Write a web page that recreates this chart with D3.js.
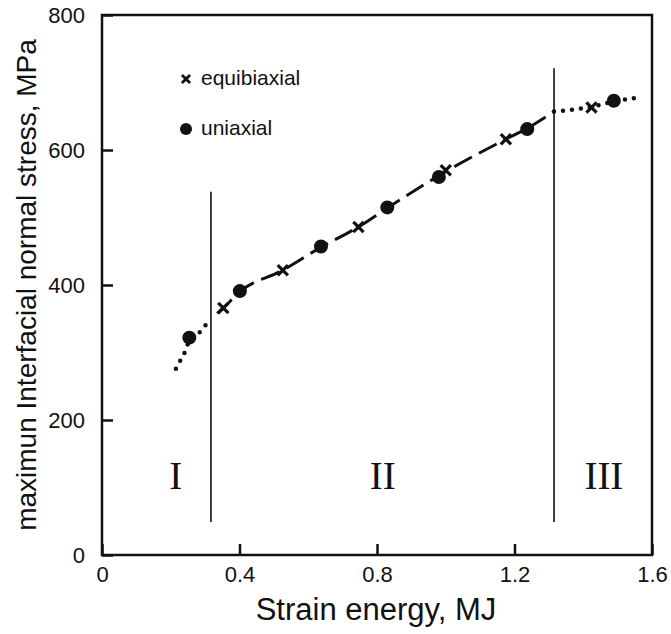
<!DOCTYPE html>
<html>
<head>
<meta charset="utf-8">
<script src="https://cdn.jsdelivr.net/npm/d3@7"></script>
<style>
  body { margin: 0; background: #fff; }
  text { font-family: "Liberation Sans", Arial, sans-serif; fill: #111; }
  .roman { font-family: "Liberation Serif", "DejaVu Serif", serif; }
</style>
</head>
<body>
<div id="chart"></div>
<script>
// data
const xTicks = [0, 0.4, 0.8, 1.2, 1.6];
const yTicks = [0, 200, 400, 600, 800];

// fitted curve, split by region
const curveI = [[0.215, 276], [0.229, 289], [0.2415, 301], [0.254, 318], [0.29, 333], [0.306, 344]];
const curveII = [[0.335, 358], [0.353, 366], [0.401, 390], [0.526, 422], [0.637, 456], [0.746, 486],
  [0.83, 514], [0.98, 562], [1.0, 568], [1.175, 616], [1.237, 632], [1.315, 657]];
const curveIII = [[1.315, 657], [1.424, 664], [1.489, 672], [1.55, 677]];

const equibiaxial = [[0.353, 366], [0.526, 422], [0.746, 486], [1.0, 570], [1.175, 616], [1.424, 663]];
const uniaxial = [[0.254, 322], [0.401, 391], [0.637, 457], [0.83, 515], [0.98, 560], [1.237, 631], [1.489, 673]];

// region dividers: x, top value, bottom value
const dividers = [[0.317, 538, 49], [1.315, 721, 49]];
const regions = [["I", 0.2145], ["II", 0.817], ["III", 1.46]];

const width = 671, height = 634,
    margin = ({ top: 15, right: 19, bottom: 79, left: 102 });

const svg = d3.select("#chart")
    .append("svg")
    .attr("width", width)
    .attr("height", height);

let x = d3.scaleLinear()
    .domain([0, 1.6])
    .range([margin.left, width - margin.right]);

let y = d3.scaleLinear()
    .domain([0, 800])
    .range([height - margin.bottom, margin.top]);

// frame
svg.append("rect")
    .attr("x", x(0))
    .attr("y", y(800))
    .attr("width", x(1.6) - x(0))
    .attr("height", y(0) - y(800))
    .attr("fill", "none")
    .attr("stroke", "#111")
    .attr("stroke-width", 2.5);

// x-axis, ticks pointing inward
let xAxis = svg.append("g")
    .attr("transform", `translate(0,${y(0)})`)
    .call(d3.axisBottom(x)
        .tickValues(xTicks)
        .tickSizeInner(-11)
        .tickSizeOuter(0)
        .tickPadding(11)
        .tickFormat(d => d === 0 ? "0" : d3.format(".1f")(d)));
xAxis.select(".domain").remove();
xAxis.selectAll("line").attr("stroke", "#111").attr("stroke-width", 2.5);
xAxis.selectAll("text").style("font-size", "22px").attr("font-family", null);

// y-axis
let yAxis = svg.append("g")
    .attr("transform", `translate(${x(0)},0)`)
    .call(d3.axisLeft(y)
        .tickValues(yTicks)
        .tickSizeInner(-11)
        .tickSizeOuter(0)
        .tickPadding(17));
yAxis.select(".domain").remove();
yAxis.selectAll("line").attr("stroke", "#111").attr("stroke-width", 2.5);
yAxis.selectAll("text").style("font-size", "22px").attr("font-family", null);

// axis labels
svg.append("text")
    .attr("text-anchor", "middle")
    .attr("x", 376)
    .attr("y", 620)
    .style("font-size", "31px")
    .text("Strain energy, MJ");

svg.append("text")
    .attr("text-anchor", "middle")
    .attr("transform", `translate(36,${(30 + 540) / 2}) rotate(-90)`)
    .style("font-size", "28px")
    .text("maximun Interfacial normal stress, MPa");

// region dividers
svg.append("g")
    .selectAll("line")
    .data(dividers)
    .join("line")
    .attr("x1", d => x(d[0]))
    .attr("x2", d => x(d[0]))
    .attr("y1", d => y(d[1]))
    .attr("y2", d => y(d[2]))
    .attr("stroke", "#111")
    .attr("stroke-width", 1.6);

svg.append("g")
    .selectAll("text")
    .data(regions)
    .join("text")
    .attr("class", "roman")
    .attr("text-anchor", "middle")
    .attr("x", d => x(d[1]))
    .attr("y", y(98))
    .style("font-size", "39px")
    .text(d => d[0]);

// curve
let line = d3.line()
    .curve(d3.curveMonotoneX)
    .x(d => x(d[0]))
    .y(d => y(d[1]));

[curveI, curveIII].forEach(seg => {
    svg.append("path")
        .datum(seg)
        .attr("fill", "none")
        .attr("stroke", "#111")
        .attr("stroke-width", 4.5)
        .attr("stroke-linecap", "round")
        .attr("stroke-dasharray", "0,9")
        .attr("d", line);
});

svg.append("path")
    .datum(curveII)
    .attr("fill", "none")
    .attr("stroke", "#111")
    .attr("stroke-width", 3)
    .attr("stroke-dasharray", "20,8")
    .attr("d", line);

// markers
let cross = d3.symbol().type(d3.symbolX).size(70);

svg.append("g")
    .selectAll("path")
    .data(equibiaxial)
    .join("path")
    .attr("d", cross)
    .attr("transform", d => `translate(${x(d[0])},${y(d[1])})`)
    .attr("fill", "none")
    .attr("stroke", "#111")
    .attr("stroke-width", 3.2);

svg.append("g")
    .selectAll("circle")
    .data(uniaxial)
    .join("circle")
    .attr("cx", d => x(d[0]))
    .attr("cy", d => y(d[1]))
    .attr("r", 7)
    .attr("fill", "#111");

// legend
let legend = svg.append("g");
legend.append("path")
    .attr("d", d3.symbol().type(d3.symbolX).size(45))
    .attr("transform", "translate(186,79)")
    .attr("fill", "none")
    .attr("stroke", "#111")
    .attr("stroke-width", 2.8);
legend.append("text")
    .attr("x", 201)
    .attr("y", 79)
    .attr("dominant-baseline", "middle")
    .style("font-size", "21px")
    .text("equibiaxial");
legend.append("circle")
    .attr("cx", 186)
    .attr("cy", 129)
    .attr("r", 6)
    .attr("fill", "#111");
legend.append("text")
    .attr("x", 201)
    .attr("y", 129)
    .attr("dominant-baseline", "middle")
    .style("font-size", "21px")
    .text("uniaxial");
</script>
</body>
</html>
